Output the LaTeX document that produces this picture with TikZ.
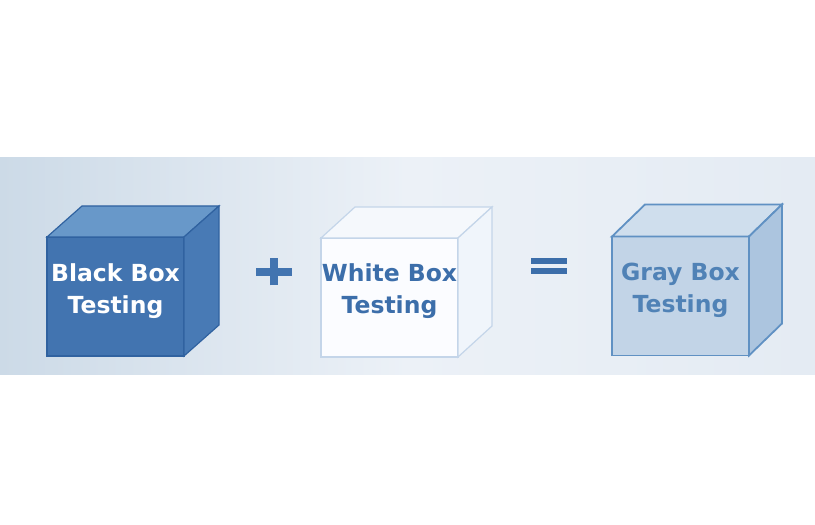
\documentclass[tikz,border=0pt]{standalone}
\usepackage{fontspec}
\setsansfont{DejaVu Sans}
\usepackage{xcolor}
\definecolor{bandleft}{RGB}{204,218,231}
\definecolor{bandmid}{RGB}{236,241,247}
\definecolor{bandright}{RGB}{228,235,243}
\definecolor{blackfront}{RGB}{66,116,176}
\definecolor{blacktop}{RGB}{104,152,201}
\definecolor{blackside}{RGB}{72,122,181}
\definecolor{blackline}{RGB}{48,98,160}
\definecolor{whitefront}{RGB}{251,252,255}
\definecolor{whitetop}{RGB}{245,248,252}
\definecolor{whiteside}{RGB}{240,245,251}
\definecolor{whiteline}{RGB}{196,213,233}
\definecolor{grayfront}{RGB}{194,212,231}
\definecolor{graytop}{RGB}{207,222,237}
\definecolor{grayside}{RGB}{172,197,223}
\definecolor{grayline}{RGB}{96,145,195}
\definecolor{signblue}{RGB}{66,116,176}
\definecolor{textblue}{RGB}{60,110,170}
\definecolor{graytext}{RGB}{80,130,182}
\usepackage{tikz}
\usetikzlibrary{positioning}

\tikzset{
  face/.style={minimum width=137pt,minimum height=119pt,outer sep=0pt,inner sep=0pt},
  boxtext/.style={font=\sffamily\bfseries\fontsize{23.5}{32}\selectfont,align=center},
  sign/.style={line width=7.5pt,signblue}
}

\begin{document}
\begin{tikzpicture}[x=1pt,y=1pt]
\useasboundingbox (0,0) rectangle (815,525);
\fill[white] (0,0) rectangle (815,525);
\shade[left color=bandleft,right color=bandright,middle color=bandmid] (0,150) rectangle (815,367);

% black box
\node[face,draw=blackline,line width=1.2pt,fill=blackfront] (blackbox) at (115.5,228.5) {};
\draw[blackline,line width=1.2pt,fill=blacktop] (blackbox.north west) -- ++(35,31) -- ++(137,0) -- (blackbox.north east) -- cycle;
\draw[blackline,line width=1.2pt,fill=blackside] (blackbox.north east) -- ++(35,31) -- ++(0,-119) -- (blackbox.south east) -- cycle;
\node[boxtext,white] (blacklabel) at ([yshift=5pt]blackbox.center) {Black Box\\Testing};

% plus
\draw[sign] (256,253) -- (292,253);
\draw[sign] (274,239.5) -- (274,266.5);

% white box
\node[face,draw=whiteline,line width=1.2pt,fill=whitefront] (whitebox) at (389.5,227.5) {};
\draw[whiteline,line width=1.2pt,fill=whitetop] (whitebox.north west) -- ++(34,31) -- ++(137,0) -- (whitebox.north east) -- cycle;
\draw[whiteline,line width=1.2pt,fill=whiteside] (whitebox.north east) -- ++(34,31) -- ++(0,-119) -- (whitebox.south east) -- cycle;
\node[boxtext,textblue] (whitelabel) at ([yshift=6pt]whitebox.center) {White Box\\Testing};

% equals
\draw[line width=6pt,textblue] (531,263.5) -- (567,263.5);
\draw[line width=6pt,textblue] (531,253.5) -- (567,253.5);

% gray box
\node[face,draw=grayline,line width=1.8pt,fill=grayfront] (graybox) at (680.5,229) {};
\draw[grayline,line width=1.8pt,fill=graytop] (graybox.north west) -- ++(33,32) -- ++(137,0) -- (graybox.north east) -- cycle;
\draw[grayline,line width=1.8pt,fill=grayside] (graybox.north east) -- ++(33,32) -- ++(0,-119) -- (graybox.south east) -- cycle;
\node[boxtext,graytext] (graylabel) at ([yshift=6pt]graybox.center) {Gray Box\\Testing};
\end{tikzpicture}
\end{document}
